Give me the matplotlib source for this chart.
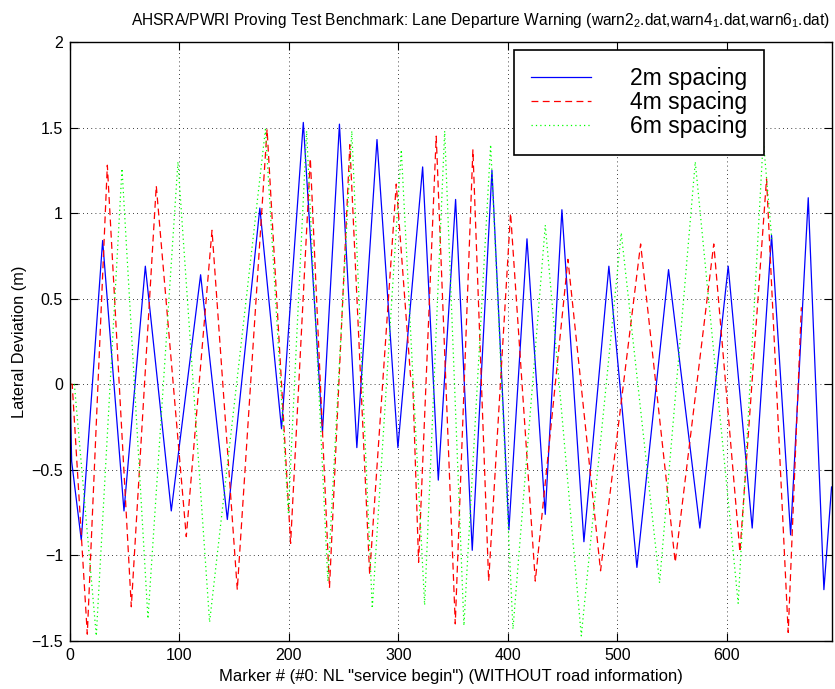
import matplotlib
matplotlib.use("Agg")
import matplotlib.pyplot as plt

plt.rcParams["font.family"] = ["Liberation Sans", "DejaVu Sans"]
plt.rcParams["mathtext.default"] = "regular"

# values (extrema of each trace)
x_2m = [0, 1.5, 10.3, 29.8, 49.3, 68.8, 92.5, 119.3, 143.7, 173.4, 193.2, 213.1,
        230.6, 246.1, 262.0, 280.4, 299.5, 322.1, 336.4, 352.2, 367.4, 385.4,
        400.9, 417.4, 434.1, 449.3, 469.4, 492.2, 517.8, 546.7, 575.3, 601.2,
        623.1, 640.8, 658.2, 674.3, 688.6, 695.6]
y_2m = [0, -0.45, -0.91, 0.84, -0.74, 0.69, -0.74, 0.64, -0.79, 1.03, -0.26, 1.53,
        -0.28, 1.52, -0.37, 1.43, -0.37, 1.27, -0.56, 1.08, -0.97, 1.25,
        -0.85, 0.85, -0.76, 1.02, -0.92, 0.69, -1.07, 0.67, -0.84, 0.69,
        -0.84, 0.87, -0.88, 1.09, -1.2, -0.6]

x_4m = [0, 2, 15.8, 34.1, 56.0, 78.8, 106.2, 129.7, 152.8, 180.0, 201.5, 219.5,
        237.0, 255.6, 273.7, 298.0, 311.0, 313.0, 318.4, 334.5, 351.9, 368.0,
        382.4, 402.4, 425.0, 454.8, 484.6, 521.2, 552.8, 588.0, 611.9, 636.2,
        656.0, 668.0]
y_4m = [0, 0, -1.46, 1.28, -1.30, 1.16, -0.89, 0.90, -1.2, 1.49, -0.93, 1.32,
        -1.19, 1.40, -1.11, 1.17, 0.05, 0.02, -1.04, 1.45, -1.40, 1.37,
        -1.15, 1.0, -1.15, 0.73, -1.09, 0.82, -1.04, 0.82, -0.98, 1.2,
        -1.45, 0.45]

x_6m = [0, 4, 24.0, 47.5, 71.2, 98.6, 127.5, 178.5, 199.4, 216.1, 235.5, 257.4,
        276.1, 302.6, 323.9, 342.2, 359.8, 384.2, 404.6, 434.1, 467.0, 503.5,
        538.5, 571.1, 610.3, 633.2, 641.0]
y_6m = [0, 0, -1.47, 1.26, -1.37, 1.30, -1.39, 1.49, -0.75, 1.48, -1.15, 1.48,
        -1.31, 1.37, -1.29, 1.48, -1.41, 1.40, -1.43, 0.93, -1.47, 0.885,
        -1.16, 1.30, -1.28, 1.43, 0.85]

labels = ["2m spacing", "4m spacing", "6m spacing"]

fig = plt.figure(figsize=(8.35, 6.89), dpi=100)
ax = fig.add_axes([70 / 835, 48 / 689, 762 / 835, 599 / 689])

ax.plot(x_2m, y_2m, color="#0000ff", lw=0.9, label=labels[0])
ax.plot(x_4m, y_4m, color="#ff0000", lw=0.9, linestyle=(0, (5.5, 3.5)), label=labels[1])
ax.plot(x_6m, y_6m, color="#00ff00", lw=0.9, linestyle=(0, (1, 2.5)), label=labels[2])

ax.set_xlim(0, 696)
ax.set_ylim(-1.5, 2)
ax.set_xticks([0, 100, 200, 300, 400, 500, 600])
ax.set_yticks([-1.5, -1, -0.5, 0, 0.5, 1, 1.5, 2])
ax.set_yticklabels(["\u22121.5", "\u22121", "\u22120.5", "0", "0.5", "1", "1.5", "2"])
ax.tick_params(direction="in", length=6, width=0.8, labelsize=11.5,
               top=True, right=True, pad=5)
ax.grid(True, color="black", linestyle=(0, (1, 4)), lw=0.6)
for s in ax.spines.values():
    s.set_linewidth(1.0)

ax.set_xlabel('Marker # (#0: NL "service begin") (WITHOUT road information)',
              fontsize=12, labelpad=4)
ax.set_ylabel("Lateral Deviation (m)", fontsize=11.8, labelpad=3.5)

fig.text(0.575, 1 - 20 / 689,
         "AHSRA/PWRI Proving Test Benchmark: Lane Departure Warning "
         "(warn2$_2$.dat,warn4$_1$.dat,warn6$_1$.dat)",
         ha="center", va="center", fontsize=11.2)

leg = ax.legend(loc="upper left", bbox_to_anchor=(0.583, 0.987), fontsize=16.5,
                frameon=True, fancybox=False, edgecolor="black", framealpha=1,
                handlelength=2.6, handletextpad=1.7, labelspacing=0.05,
                borderpad=0.75, borderaxespad=0, markerfirst=True)
leg.get_frame().set_linewidth(1.2)

fig.savefig("out.png", dpi=100)
